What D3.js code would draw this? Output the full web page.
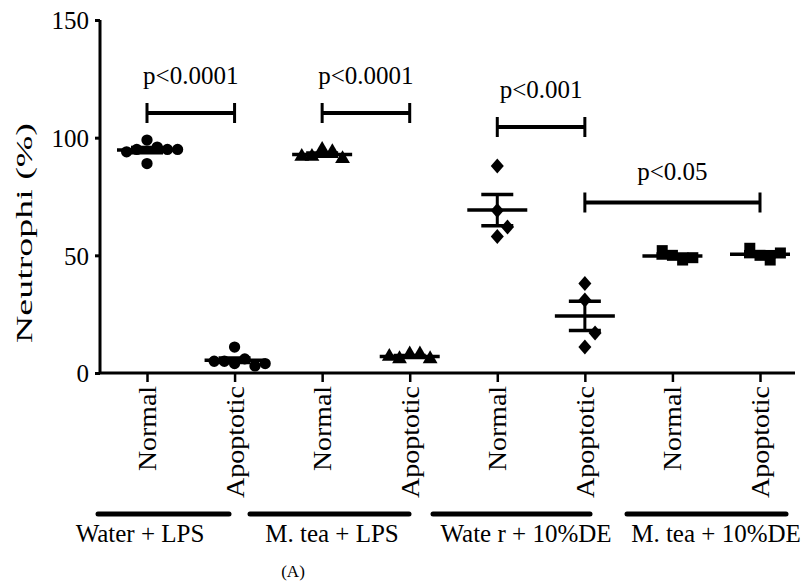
<!DOCTYPE html>
<html>
<head>
<meta charset="utf-8">
<script src="https://cdn.jsdelivr.net/npm/d3@7"></script>
<style>
  body { margin: 0; background: #fff; }
  text { font-family: "Liberation Serif", "Times New Roman", serif; fill: #000; }
</style>
</head>
<body>
<div id="plot"></div>
<script>
// Chart data
const groupNames = ["Water + LPS", "M. tea + LPS", "Wate r + 10%DE", "M. tea + 10%DE"];
const conditions = ["Normal", "Apoptotic"];
const markerShapes = ["circle", "triangle", "diamond", "square"];

const waterLpsNormal = [99, 96, 95, 95, 94, 95, 89];
const waterLpsApoptotic = [11, 6, 5, 4, 3, 5, 4];
const teaLpsNormal = [95, 94, 92, 91, 92];
const teaLpsApoptotic = [8, 8, 6, 6, 7];
const waterDeNormal = [88, 69, 58, 62];
const waterDeApoptotic = [11, 17, 31, 38];
const teaDeNormal = [50, 48, 52, 49];
const teaDeApoptotic = [50, 48, 53, 51];

const columns = [waterLpsNormal, waterLpsApoptotic, teaLpsNormal, teaLpsApoptotic,
                 waterDeNormal, waterDeApoptotic, teaDeNormal, teaDeApoptotic];

const yTicks = [0, 50, 100, 150];
const comparisons = [
  {from: 0, to: 1, label: "p<0.0001", level: 110.5},
  {from: 2, to: 3, label: "p<0.0001", level: 110.5},
  {from: 4, to: 5, label: "p<0.001", level: 104.5},
  {from: 5, to: 7, label: "p<0.05", level: 72.5}
];

// layout
const width = 808;
const height = 581;
const groupBarSpans = [[98, 229], [250, 409], [433, 590], [627, 786]];

const svg = d3.select("#plot")
  .append("svg")
  .attr("width", width)
  .attr("height", height);

const x = d3.scaleLinear().domain([0, 7]).range([147, 760]);
const y = d3.scaleLinear().domain([0, 150]).range([373, 20]);

// Y axis
const yAxis = svg.append("g")
  .attr("transform", "translate(100,0)")
  .call(d3.axisLeft(y).tickValues(yTicks).tickSize(5).tickPadding(6));
yAxis.select(".domain").attr("stroke-width", 3).attr("d", `M0,${y(150)}V${y(0)}`);
yAxis.selectAll(".tick line").attr("stroke-width", 3);
yAxis.selectAll(".tick text")
  .style("font-size", "25px")
  .attr("font-family", null)
  .attr("dy", "0.35em");

svg.append("text")
  .attr("transform", `translate(32,233) rotate(-90)`)
  .attr("text-anchor", "middle")
  .attr("textLength", 220)
  .attr("lengthAdjust", "spacingAndGlyphs")
  .style("font-size", "23px")
  .text("Neutrophi (%)");

// X axis
svg.append("line")
  .attr("x1", 100).attr("x2", x(7) + 35)
  .attr("y1", y(0)).attr("y2", y(0))
  .attr("stroke", "#000").attr("stroke-width", 3);

const xAxis = svg.append("g")
  .attr("transform", `translate(0,${y(0)})`)
  .call(d3.axisBottom(x).tickValues(d3.range(8)).tickSize(9).tickFormat(""));
xAxis.select(".domain").remove();
xAxis.selectAll(".tick line").attr("stroke-width", 2.5);

const labelLen = {Normal: 85, Apoptotic: 112};
svg.selectAll(".cond-label")
  .data(d3.range(8))
  .join("text")
  .attr("class", "cond-label")
  .attr("transform", d => `translate(${x(d) + 9},386) rotate(-90)`)
  .attr("text-anchor", "end")
  .attr("textLength", d => labelLen[conditions[d % 2]])
  .attr("lengthAdjust", "spacingAndGlyphs")
  .style("font-size", "26px")
  .text(d => conditions[d % 2]);

// group bars and names
svg.selectAll(".group-bar")
  .data(groupBarSpans)
  .join("line")
  .attr("class", "group-bar")
  .attr("x1", d => d[0]).attr("x2", d => d[1])
  .attr("y1", 514).attr("y2", 514)
  .attr("stroke", "#000").attr("stroke-width", 5)
  .attr("stroke-linecap", "round");

const nameCenters = [140, 332, 526, 716];
svg.selectAll(".group-name")
  .data(groupNames)
  .join("text")
  .attr("class", "group-name")
  .attr("x", (d, i) => nameCenters[i])
  .attr("y", 542)
  .attr("text-anchor", "middle")
  .style("font-size", "25px")
  .text(d => d);

svg.append("text")
  .attr("x", 293).attr("y", 577)
  .attr("text-anchor", "middle")
  .style("font-size", "17px")
  .text("(A)");

// markers
function markerPath(shape) {
  if (shape === "circle") return d3.symbol(d3.symbolCircle, 100)();
  if (shape === "triangle") return d3.symbol(d3.symbolTriangle, 95)();
  if (shape === "square") return "M-5.5,-5.5H5.5V5.5H-5.5Z";
  return "M0,-7.5L6.5,0L0,7.5L-6.5,0Z";
}

// spread overlapping points sideways like a column scatter
function spread(values, size) {
  const placed = [];
  const step = size * 0.85;
  const candidates = [0, 1, -1, 2, -2, 3, -3];
  values.forEach(v => {
    const py = y(v);
    for (const c of candidates) {
      const px = c * step;
      const hit = placed.some(p => Math.abs(p.py - py) < size * 1.2 && Math.abs(p.px - px) < size * 0.8);
      if (!hit) { placed.push({px, py, v}); break; }
    }
  });
  return placed;
}

columns.forEach((vals, i) => {
  const shape = markerShapes[Math.floor(i / 2)];
  const cx = x(i);
  const pts = spread(vals, 12);
  const g = svg.append("g");

  const mean = d3.mean(vals);
  const sem = d3.deviation(vals) / Math.sqrt(vals.length);

  g.selectAll("path.pt")
    .data(pts)
    .join("path")
    .attr("class", "pt")
    .attr("d", markerPath(shape))
    .attr("transform", d => `translate(${cx + d.px},${d.py})`)
    .attr("fill", "#000");

  // mean and SEM
  g.append("line")
    .attr("x1", cx - 30).attr("x2", cx + 30)
    .attr("y1", y(mean)).attr("y2", y(mean))
    .attr("stroke", "#000").attr("stroke-width", 3.5);
  g.append("line")
    .attr("x1", cx).attr("x2", cx)
    .attr("y1", y(mean + sem)).attr("y2", y(mean - sem))
    .attr("stroke", "#000").attr("stroke-width", 3);
  [mean + sem, mean - sem].forEach(v => {
    g.append("line")
      .attr("x1", cx - 16).attr("x2", cx + 16)
      .attr("y1", y(v)).attr("y2", y(v))
      .attr("stroke", "#000").attr("stroke-width", 3.5);
  });
});

// significance brackets
const br = svg.selectAll(".bracket")
  .data(comparisons)
  .join("g")
  .attr("class", "bracket");

br.append("path")
  .attr("d", d => `M${x(d.from)},${y(d.level)}H${x(d.to)}`)
  .attr("stroke", "#000").attr("stroke-width", 4).attr("fill", "none");
br.append("path")
  .attr("d", d => `M${x(d.from)},${y(d.level) - 10}V${y(d.level) + 10}M${x(d.to)},${y(d.level) - 10}V${y(d.level) + 10}`)
  .attr("stroke", "#000").attr("stroke-width", 3).attr("fill", "none");
br.append("text")
  .attr("x", d => (x(d.from) + x(d.to)) / 2)
  .attr("y", (d, i) => y(d.level) - (i === 3 ? 22 : 29))
  .attr("text-anchor", "middle")
  .style("font-size", "25px")
  .text(d => d.label);
</script>
</body>
</html>
